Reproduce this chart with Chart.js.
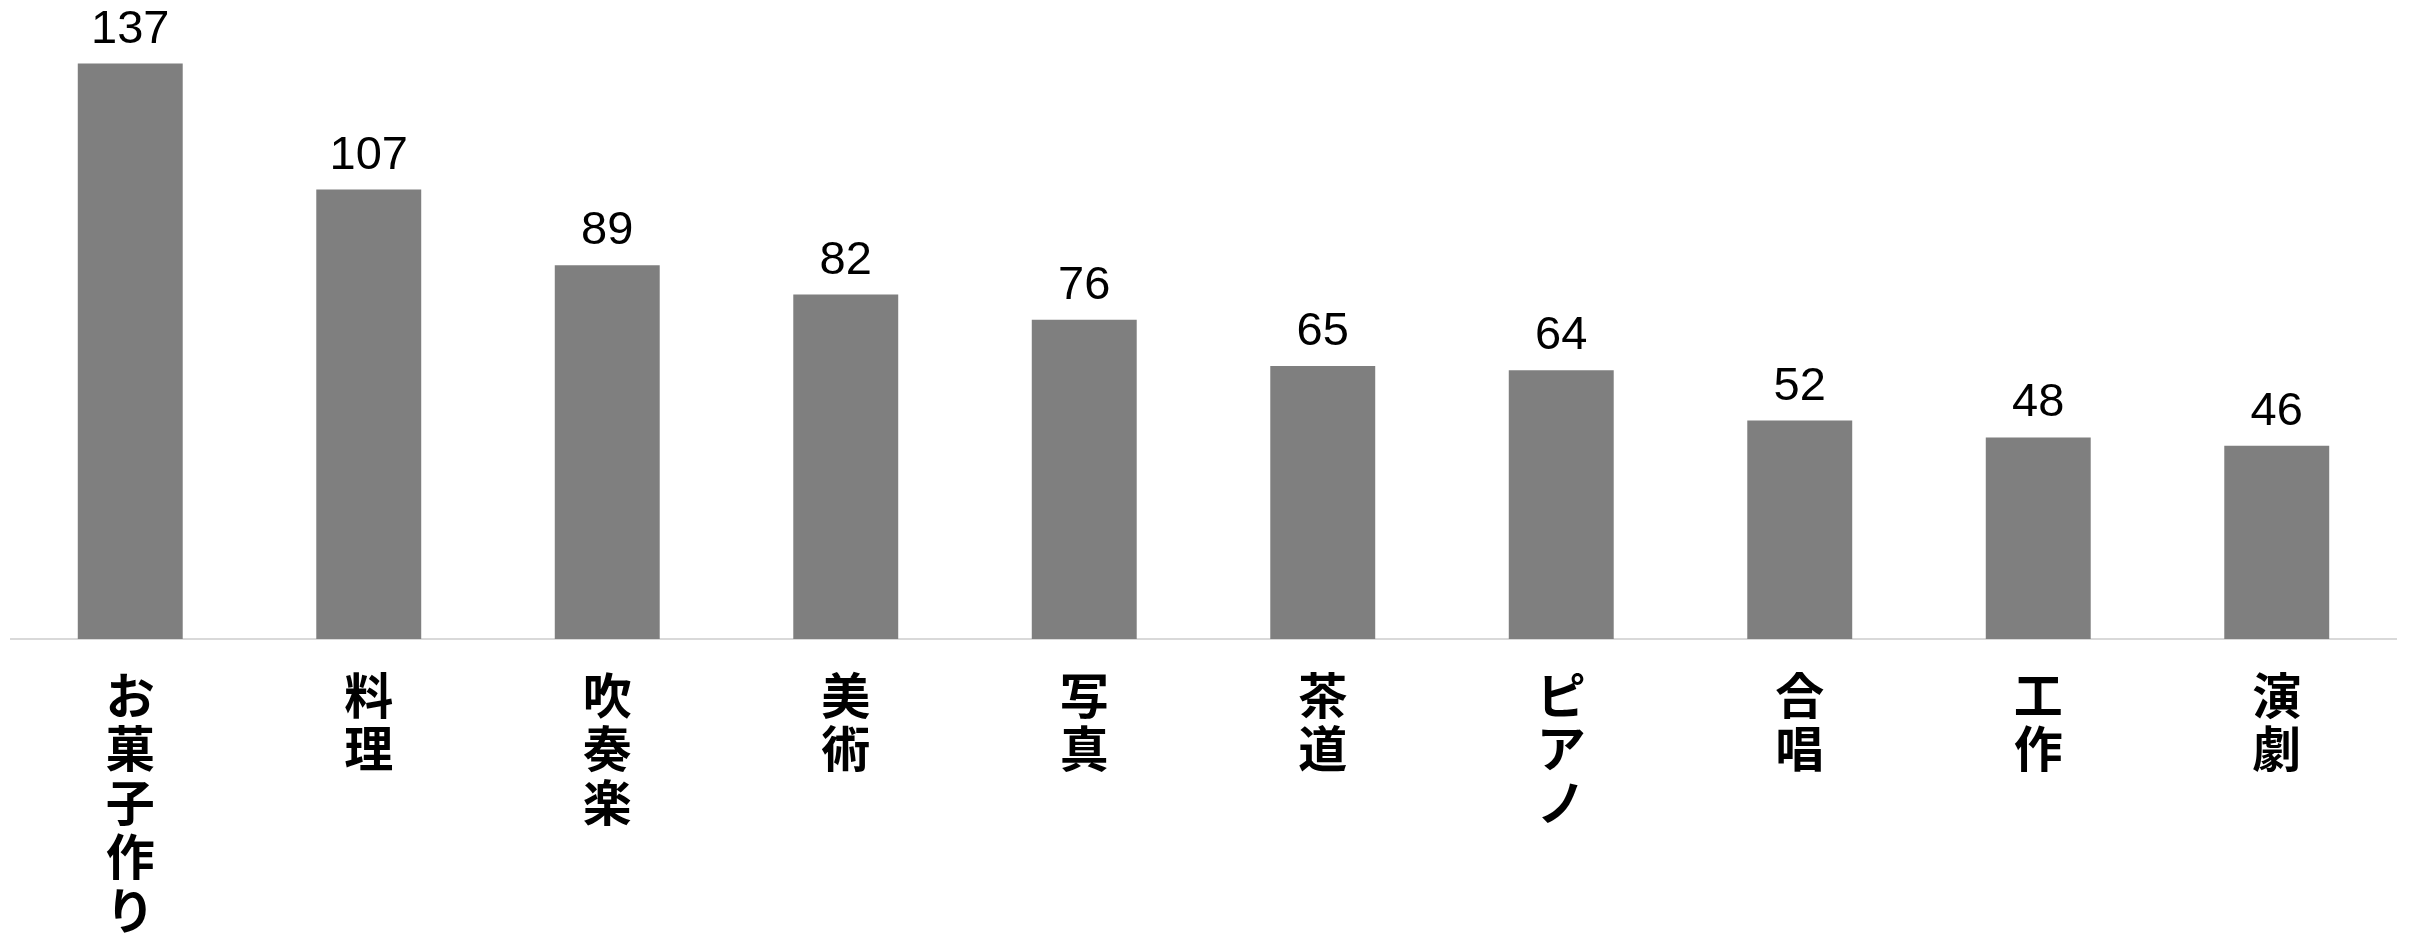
<!DOCTYPE html>
<html>
<head>
<meta charset="utf-8">
<script src="https://cdn.jsdelivr.net/npm/chart.js@4"></script>
<style>
  html, body { margin: 0; padding: 0; background: #fff; }
  #wrap { width: 2410px; height: 937px; }
</style>
</head>
<body>
<div id="wrap"><canvas id="myChart"></canvas></div>
<script>
// categories (one char per line for vertical labels)
const categories = ["お菓子作り", "料理", "吹奏楽", "美術", "写真", "茶道", "ピアノ", "合唱", "工作", "演劇"];
const counts = [137, 107, 89, 82, 76, 65, 64, 52, 48, 46];

// draw the value above every bar
const valueLabels = {
  id: "valueLabels",
  afterDatasetsDraw(chart) {
    const ctx = chart.ctx;
    const meta = chart.getDatasetMeta(0);
    ctx.save();
    ctx.font = "47px 'Liberation Sans', Arial, sans-serif";
    ctx.fillStyle = "#000";
    ctx.textAlign = "center";
    ctx.textBaseline = "alphabetic";
    meta.data.forEach((bar, i) => {
      ctx.fillText(String(counts[i]), bar.x, bar.y - 21);
    });
    ctx.restore();
  }
};

new Chart("myChart", {
  type: "bar",
  data: {
    labels: categories.map(c => c.split("")),
    datasets: [{
      data: counts,
      backgroundColor: "#7f7f7f",
      borderWidth: 0,
      categoryPercentage: 1.0,
      barPercentage: 0.44
    }]
  },
  options: {
    responsive: true,
    maintainAspectRatio: false,
    animation: false,
    layout: { padding: { top: 9, left: 11, right: 14, bottom: 0 } },
    plugins: {
      legend: { display: false },
      tooltip: { enabled: false }
    },
    scales: {
      x: {
        grid: { display: false, drawTicks: false },
        border: { display: true, color: "#d9d9d9", width: 2 },
        ticks: {
          color: "#000",
          autoSkip: false,
          maxRotation: 0,
          padding: 29,
          font: { family: "'Noto Sans CJK JP'", size: 49, weight: "bold", lineHeight: 1.1 }
        },
        afterFit: scale => { scale.height = 298; }
      },
      y: {
        display: false,
        min: 0,
        max: 150
      }
    }
  },
  plugins: [valueLabels]
});
</script>
</body>
</html>
